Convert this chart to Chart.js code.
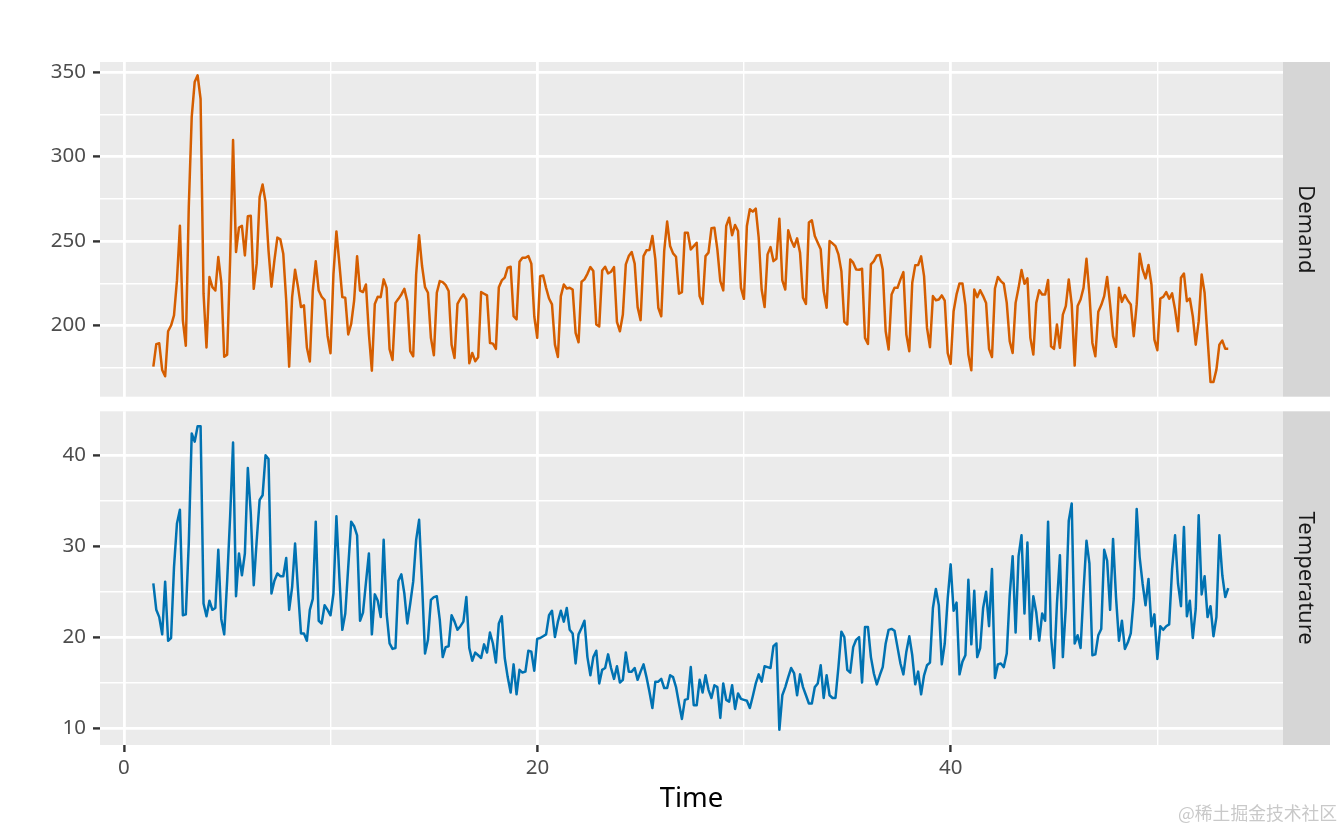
<!DOCTYPE html>
<html>
<head>
<meta charset="utf-8">
<title>Demand and Temperature</title>
<script src="https://cdn.jsdelivr.net/npm/chart.js@4"></script>
<style>
  body { margin: 0; background: #ffffff; width: 1344px; height: 830px; overflow: hidden; position: relative; }
  canvas { position: absolute; left: 0; }
  #demandChart { top: 0; }
  #tempChart { top: 392px; }
  #watermark { position: absolute; left: 1178px; top: 799px; font: 17.8px "Noto Sans CJK SC"; color: #c9c9c9; white-space: nowrap; }
</style>
</head>
<body>
<canvas id="demandChart" width="1344" height="416"></canvas>
<canvas id="tempChart" width="1344" height="438"></canvas>
<div id="watermark">@稀土掘金技术社区</div>
<script>
/* --------------- Data --------------- */
const demand = [
  175.7,189,189.5,173.7,170,196.6,200,206,226.7,259,203,188,270,323.5,344,348,334,219,187,228.7,222.7,220.7,240.5,225.7,181.6,182.8,238.5,309.7,243.5,258,259,241.5,264.6,265,221.7,236.6,276,283.4,273,244.5,223,238.5,252,251,242.5,214.8,175.7,216.8,233,222.7,210.9,211.9,187,178.7,220.7,238,220.7,217,215,194,183.6,230.6,255.7,236.6,216.8,216.4,194.7,201,214.8,241,220.7,219.8,224.3,195,173.3,212.8,217,216.8,227.3,222.3,186,179.6,213.4,215.8,
  218.4,221.7,214.4,184.8,181.8,230.2,253.4,235.2,222.7,219.4,192.7,182.4,219.4,226.3,225.7,223.9,220.4,188.7,180.8,212.8,216,218.4,215.4,177.7,183.8,178.9,181.2,219.8,218.8,217.8,189.7,189.3,186.2,222.7,226.7,228.3,234.2,234.8,205.5,203.6,237.7,240.1,240.1,241.1,236.6,205.5,192.7,229.2,229.6,222.3,216,212.5,188.7,181.4,217.4,224.3,221.9,222.3,221.3,195.7,190.1,225.9,227.3,230.6,234.6,232.2,200.6,199.4,232.6,234.8,230.8,231.8,234.6,202.2,196.6,206.5,236.2,241.1,243.5,236.6,210.9,203.2,241.1,244.5,244.7,253,239.1,210.5,205.5,244.1,261.5,247,242.7,240.7,218.8,219.8,254.9,254.9,245,247,249,
  217.4,212.8,241.1,243.1,257.5,257.9,245.1,226.3,220.8,258.9,263.8,253.4,259.5,255.9,222.3,215.8,258.9,268.8,267.4,269.2,252,221.3,210.9,242.1,246.4,238.1,239.5,263.2,226.7,221.3,256.3,250.4,246.6,251.6,243.1,216.4,212.8,260.9,262.3,253,249,245.1,220.4,210.5,250,248.6,247,242.1,232.2,202.2,200.6,239.1,237.2,233.2,233,233.6,192.7,189.1,236.2,238.1,241.5,241.7,233.2,196.6,185.8,218.4,222.3,222.3,227.3,231.6,194.7,184.8,225.3,235.6,235.8,240.9,229.2,198.6,187.2,217.4,215,215.4,217.8,214.8,183.8,177.3,208.5,218.4,224.9,224.9,212.1,182.8,173.5,221.3,216.8,220.9,217.4,213.4,186.2,181.4,221.9,228.7,
  226.3,224.7,213.4,190.7,183.8,213.4,222.3,232.8,224.7,227.9,192.7,182.8,213.4,220.9,218.4,218.4,226.9,187.7,186.2,200.6,186.8,206.5,211.5,227.3,212.5,176.3,211.5,215.4,222.3,239.5,218.4,189.7,181.8,208.1,212.1,217.4,228.7,212.5,193.7,187.4,222.3,214,218,214.8,212.5,193.7,212.5,242.5,233.2,227.9,235.8,224.3,191.7,185.4,216,217,219.8,215.8,219,209.5,196.6,228.3,230.8,214.4,216,205.5,188.7,202.6,230.2,219.4,192.7,166.6,166.6,173.9,188.7,191.1,186.2,186.2
];
const temperature = [
  25.9,23,22.2,20.3,26.1,19.6,19.9,27.7,32.5,34,22.4,22.5,30.3,42.4,41.5,43.2,43.2,23.7,22.3,24,23,23.2,29.6,22,20.3,26.2,33.2,41.4,24.5,29.2,26.8,29.2,38.6,33.6,25.7,30.6,35.1,35.6,40,39.6,24.8,26.2,27,26.7,26.7,28.7,23,25.5,30.3,25.1,20.4,20.4,19.6,23,24.2,32.7,21.8,21.5,23.5,23,22.4,24.8,33.3,26.6,20.8,22.6,27.7,32.7,32.2,31.2,21.8,22.7,26,29.2,20.3,24.7,24,22.2,30.7,22.6,19.3,18.7,18.8,26.2,
  26.9,24.8,21.5,23.7,26.1,30.7,32.9,25.9,18.2,19.7,24.1,24.4,24.5,21.9,17.8,18.9,19,22.4,21.7,20.8,21.2,21.7,24.4,18.8,17.4,18.3,18,17.7,19.2,18.3,20.5,19.3,17.2,21.5,22.3,17.7,15.6,13.9,17,13.7,16.4,16.1,16.2,18.5,18.4,16.3,19.8,19.9,20.1,20.3,22.4,22.9,20,21.7,22.9,21.7,23.2,20.8,20.4,17.1,20.3,21,21.8,17.8,15.8,17.8,18.5,14.9,16.4,16.6,18.1,16.6,15.4,16.8,15,15.3,18.3,16.2,16.2,16.6,15.3,16.2,17,15.6,14,12.2,15.1,15.1,15.4,14.4,14.4,15.8,15.6,14.5,12.7,11,13.1,13.2,16.7,12.5,12.5,
  15.3,13.9,15.8,14.2,13.3,14.7,14.5,11.1,14.9,13.1,12.9,14.7,12.1,13.8,13.2,13.1,13,12.2,13.5,14.9,15.9,15.1,16.8,16.7,16.6,19,19.3,9.8,13.6,14.5,15.6,16.6,16,13.6,15.9,14.5,13.6,12.7,12.7,14.5,14.9,16.9,13.3,15.8,13.6,13.3,13.3,16.7,20.6,20,16.4,16.1,18.9,19.7,20,15,21.1,21.1,17.8,16,14.8,15.8,16.7,19.3,20.8,20.9,20.7,18.9,17.1,15.9,18.4,20.1,18,14.8,16.2,13.7,15.8,16.9,17.2,23.2,25.3,23.5,17,19.3,24.2,28,22.9,23.8,15.9,17.3,18,26.3,19.2,25.1,17.8,18.8,23.2,25,21.2,27.5,15.5,17,
  17.1,16.7,18.2,24.6,28.9,20.5,28.9,31.2,22.6,30.4,19.8,24.5,22.7,19.6,22.6,21.8,32.7,20,16.6,23.7,29,17.8,23.3,32.8,34.7,19.3,20.2,18.8,25.1,30.6,28.1,18,18.1,20.2,20.9,29.6,28.4,23,30.8,24.4,19.6,21.8,18.7,19.4,20.4,24.2,34.1,28.8,25.9,23.5,26.4,21.2,22.5,17.6,21.2,20.8,21.2,21.4,27.5,31.2,25.9,23.4,32.1,22.3,24,19.9,23.1,33.4,24.7,26.7,22.2,23.4,20.1,22.2,31.2,26.8,24.4,25.4
];
const firstWeek = 1.42;     // time of the first daily reading
const daysPerWeek = 7;

const xMajor = [0, 20, 40];
const xMinor = [10, 30, 50];
const xRange = [-1.16, 56.07];
const demandMajor = [200, 250, 300, 350];
const demandMinor = [175, 225, 275, 325];
const demandRange = [157.9, 355.9];
const tempMajor = [10, 20, 30, 40];
const tempMinor = [15, 25, 35];
const tempRange = [8.13, 44.84];

/* --------------- Shared helpers --------------- */
const panelBg = "#EBEBEB";
const stripBg = "#D6D6D6";
const fontFamily = '"Noto Sans", sans-serif';

const toPoints = (values) => values.map((v, i) => ({ x: firstWeek + i / daysPerWeek, y: v }));

// panel background and the grey strip on the right
const panelPlugin = (label) => ({
  id: "panel",
  beforeDraw(chart) {
    const { ctx, chartArea: a } = chart;
    ctx.save();
    ctx.fillStyle = panelBg;
    ctx.fillRect(a.left, a.top, a.right - a.left, a.bottom - a.top);
    ctx.fillStyle = stripBg;
    ctx.fillRect(a.right, a.top, 47, a.bottom - a.top);
    ctx.translate(a.right + 22, (a.top + a.bottom) / 2);
    ctx.rotate(Math.PI / 2);
    ctx.fillStyle = "#1a1a1a";
    ctx.font = "22px " + fontFamily;
    ctx.textAlign = "center";
    ctx.textBaseline = "middle";
    ctx.fillText(label, 0, 0);
    ctx.restore();
  },
});

const axis = (range, major, minor, labelGap, extra) => ({
  type: "linear",
  min: range[0],
  max: range[1],
  afterBuildTicks: (scale) => {
    scale.ticks = major.concat(minor).sort((a, b) => a - b).map((v) => ({ value: v }));
  },
  grid: {
    color: "#ffffff",
    lineWidth: (c) => (major.includes(c.tick.value) ? 2.8 : 1.4),
    tickColor: (c) => (major.includes(c.tick.value) ? "#333333" : "rgba(0,0,0,0)"),
    tickWidth: 2.4,
    tickLength: 7,
  },
  border: { display: false },
  ticks: {
    autoSkip: false,
    maxRotation: 0,
    padding: labelGap,
    color: "#4D4D4D",
    font: { family: fontFamily, size: 20.5 },
    callback: (v) => (major.includes(v) ? String(v) : ""),
  },
  ...extra,
});

const makeChart = (id, label, values, color, yRange, yMajor, yMinor, pad, xExtra) =>
  new Chart(document.getElementById(id), {
    type: "line",
    plugins: [panelPlugin(label)],
    data: {
      datasets: [
        {
          data: toPoints(values),
          borderColor: color,
          borderWidth: 2.5,
          borderJoinStyle: "round",
          pointRadius: 0,
          tension: 0,
          fill: false,
        },
      ],
    },
    options: {
      responsive: false,
      animation: false,
      devicePixelRatio: 1,
      layout: { padding: pad },
      plugins: { legend: { display: false }, tooltip: { enabled: false } },
      scales: {
        x: axis(xRange, xMajor, xMinor, 4, xExtra),
        y: axis(yRange, yMajor, yMinor, 7, {
          afterFit: (scale) => {
            scale.width = 100;
          },
        }),
      },
    },
  });

/* --------------- Charts --------------- */
makeChart("demandChart", "Demand", demand, "#D55E00", demandRange, demandMajor, demandMinor,
  { left: 0, right: 61, top: 62, bottom: 0 },
  {
    ticks: { display: false },
    grid: {
      color: "#ffffff",
      lineWidth: (c) => (xMajor.includes(c.tick.value) ? 2.8 : 1.4),
      drawTicks: false,
    },
    afterFit: (scale) => {
      scale.height = 0;
    },
  });

makeChart("tempChart", "Temperature", temperature, "#0072B2", tempRange, tempMajor, tempMinor,
  { left: 0, right: 61, top: 11, bottom: 14 },
  {
    title: { display: true, text: "Time", color: "#000000", font: { family: fontFamily, size: 27.5 }, padding: 0 },
    afterFit: (scale) => {
      scale.height = 71;
    },
  });
</script>
</body>
</html>
